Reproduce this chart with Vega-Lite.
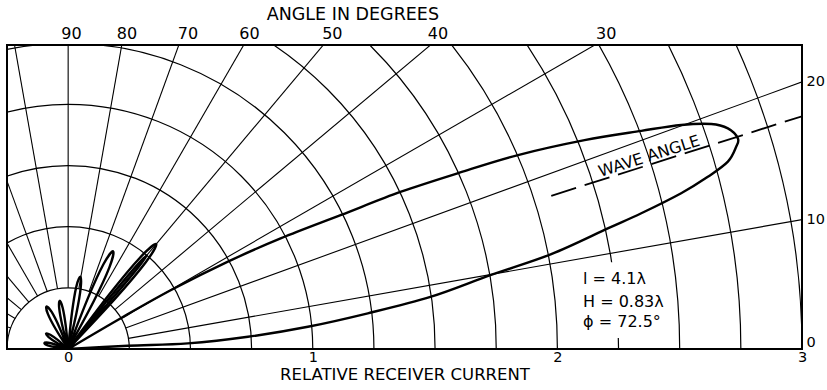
{
  "$schema": "https://vega.github.io/schema/vega-lite/v6.json",
  "width": 795,
  "height": 304,
  "autosize": {"type": "none"},
  "padding": {"left": 7, "top": 45, "right": 25, "bottom": 41},
  "config": {
    "view": {"stroke": "black", "strokeWidth": 2},
    "font": "DejaVu Sans",
    "text": {"font": "DejaVu Sans", "color": "black"},
    "axis": {
      "grid": false, "ticks": false, "domain": false,
      "labelFont": "DejaVu Sans", "labelFontSize": 16, "labelColor": "black",
      "titleFont": "DejaVu Sans", "titleFontSize": 16.5, "titleFontWeight": "normal", "titleColor": "black"
    }
  },
  "datasets": {
    "circles": [
      {"r": 0.25}, {"r": 0.5}, {"r": 0.75}, {"r": 1.0}, {"r": 1.25}, {"r": 1.5}, {"r": 1.75},
      {"r": 2.0}, {"r": 2.25}, {"r": 2.5}, {"r": 2.75}, {"r": 3.0}, {"r": 3.25}
    ],
    "spokes": [
      {"deg": 10, "x": 0.2462, "y": 0.0434, "x2": 3.9392, "y2": 0.6946},
      {"deg": 20, "x": 0.2349, "y": 0.0855, "x2": 3.7588, "y2": 1.3681},
      {"deg": 30, "x": 0.2165, "y": 0.125, "x2": 3.4641, "y2": 2.0},
      {"deg": 40, "x": 0.1915, "y": 0.1607, "x2": 3.0642, "y2": 2.5712},
      {"deg": 50, "x": 0.1607, "y": 0.1915, "x2": 2.5712, "y2": 3.0642},
      {"deg": 60, "x": 0.125, "y": 0.2165, "x2": 2.0, "y2": 3.4641},
      {"deg": 70, "x": 0.0855, "y": 0.2349, "x2": 1.3681, "y2": 3.7588},
      {"deg": 80, "x": 0.0434, "y": 0.2462, "x2": 0.6946, "y2": 3.9392},
      {"deg": 90, "x": 0.0, "y": 0.25, "x2": 0.0, "y2": 4.0},
      {"deg": 100, "x": -0.0434, "y": 0.2462, "x2": -0.6946, "y2": 3.9392},
      {"deg": 110, "x": -0.0855, "y": 0.2349, "x2": -1.3681, "y2": 3.7588},
      {"deg": 120, "x": -0.125, "y": 0.2165, "x2": -2.0, "y2": 3.4641},
      {"deg": 130, "x": -0.1607, "y": 0.1915, "x2": -2.5712, "y2": 3.0642},
      {"deg": 140, "x": -0.1915, "y": 0.1607, "x2": -3.0642, "y2": 2.5712},
      {"deg": 150, "x": -0.2165, "y": 0.125, "x2": -3.4641, "y2": 2.0},
      {"deg": 160, "x": -0.2349, "y": 0.0855, "x2": -3.7588, "y2": 1.3681},
      {"deg": 170, "x": -0.2462, "y": 0.0434, "x2": -3.9392, "y2": 0.6946}
    ],
    "lobes": [
      {"lobe": "main", "i": 0, "x": 0, "y": 0},
      {"lobe": "main", "i": 1, "x": 0.217, "y": 0.127},
      {"lobe": "main", "i": 2, "x": 0.421, "y": 0.241},
      {"lobe": "main", "i": 3, "x": 0.653, "y": 0.357},
      {"lobe": "main", "i": 4, "x": 0.871, "y": 0.453},
      {"lobe": "main", "i": 5, "x": 1.116, "y": 0.548},
      {"lobe": "main", "i": 6, "x": 1.361, "y": 0.643},
      {"lobe": "main", "i": 7, "x": 1.600, "y": 0.721},
      {"lobe": "main", "i": 8, "x": 1.839, "y": 0.793},
      {"lobe": "main", "i": 9, "x": 2.111, "y": 0.854},
      {"lobe": "main", "i": 10, "x": 2.343, "y": 0.892},
      {"lobe": "main", "i": 11, "x": 2.506, "y": 0.916},
      {"lobe": "main", "i": 12, "x": 2.629, "y": 0.920},
      {"lobe": "main", "i": 13, "x": 2.697, "y": 0.902},
      {"lobe": "main", "i": 14, "x": 2.738, "y": 0.861},
      {"lobe": "main", "i": 15, "x": 2.731, "y": 0.827},
      {"lobe": "main", "i": 16, "x": 2.697, "y": 0.766},
      {"lobe": "main", "i": 17, "x": 2.615, "y": 0.704},
      {"lobe": "main", "i": 18, "x": 2.506, "y": 0.637},
      {"lobe": "main", "i": 19, "x": 2.343, "y": 0.555},
      {"lobe": "main", "i": 20, "x": 2.206, "y": 0.493},
      {"lobe": "main", "i": 21, "x": 1.975, "y": 0.388},
      {"lobe": "main", "i": 22, "x": 1.729, "y": 0.303},
      {"lobe": "main", "i": 23, "x": 1.484, "y": 0.214},
      {"lobe": "main", "i": 24, "x": 1.225, "y": 0.146},
      {"lobe": "main", "i": 25, "x": 0.980, "y": 0.091},
      {"lobe": "main", "i": 26, "x": 0.735, "y": 0.050},
      {"lobe": "main", "i": 27, "x": 0.489, "y": 0.023},
      {"lobe": "main", "i": 28, "x": 0.244, "y": 0.013},
      {"lobe": "main", "i": 29, "x": 0, "y": 0},

      {"lobe": "a", "i": 0, "x": 0, "y": 0},
      {"lobe": "a", "i": 1, "x": 0.1910, "y": 0.2048},
      {"lobe": "a", "i": 2, "x": 0.3173, "y": 0.3549},
      {"lobe": "a", "i": 3, "x": 0.3600, "y": 0.4290},
      {"lobe": "a", "i": 4, "x": 0.2944, "y": 0.3741},
      {"lobe": "a", "i": 5, "x": 0.1685, "y": 0.2236},
      {"lobe": "a", "i": 6, "x": 0, "y": 0},

      {"lobe": "a2", "i": 0, "x": 0, "y": 0},
      {"lobe": "a2", "i": 1, "x": 0.1647, "y": 0.1881},
      {"lobe": "a2", "i": 2, "x": 0.2771, "y": 0.3222},
      {"lobe": "a2", "i": 3, "x": 0.3214, "y": 0.3830},
      {"lobe": "a2", "i": 4, "x": 0.2692, "y": 0.3289},
      {"lobe": "a2", "i": 5, "x": 0.1567, "y": 0.1948},
      {"lobe": "a2", "i": 6, "x": 0, "y": 0},

      {"lobe": "b", "i": 0, "x": 0, "y": 0},
      {"lobe": "b", "i": 1, "x": 0.1040, "y": 0.1939},
      {"lobe": "b", "i": 2, "x": 0.1686, "y": 0.3338},
      {"lobe": "b", "i": 3, "x": 0.1839, "y": 0.3997},
      {"lobe": "b", "i": 4, "x": 0.1437, "y": 0.3453},
      {"lobe": "b", "i": 5, "x": 0.0796, "y": 0.2051},
      {"lobe": "b", "i": 6, "x": 0, "y": 0},

      {"lobe": "c", "i": 0, "x": 0, "y": 0},
      {"lobe": "c", "i": 1, "x": 0.0338, "y": 0.1462},
      {"lobe": "c", "i": 2, "x": 0.0513, "y": 0.2498},
      {"lobe": "c", "i": 3, "x": 0.0495, "y": 0.2959},
      {"lobe": "c", "i": 4, "x": 0.0328, "y": 0.2529},
      {"lobe": "c", "i": 5, "x": 0.0157, "y": 0.1492},
      {"lobe": "c", "i": 6, "x": 0, "y": 0},

      {"lobe": "d", "i": 0, "x": 0, "y": 0},
      {"lobe": "d", "i": 1, "x": -0.0105, "y": 0.0995},
      {"lobe": "d", "i": 2, "x": -0.0225, "y": 0.1685},
      {"lobe": "d", "i": 3, "x": -0.0347, "y": 0.1970},
      {"lobe": "d", "i": 4, "x": -0.0365, "y": 0.1660},
      {"lobe": "d", "i": 5, "x": -0.0242, "y": 0.0970},
      {"lobe": "d", "i": 6, "x": 0, "y": 0},

      {"lobe": "e", "i": 0, "x": 0, "y": 0},
      {"lobe": "e", "i": 1, "x": -0.0365, "y": 0.0904},
      {"lobe": "e", "i": 2, "x": -0.0675, "y": 0.1516},
      {"lobe": "e", "i": 3, "x": -0.0885, "y": 0.1737},
      {"lobe": "e", "i": 4, "x": -0.0830, "y": 0.1438},
      {"lobe": "e", "i": 5, "x": -0.0517, "y": 0.0827},
      {"lobe": "e", "i": 6, "x": 0, "y": 0},

      {"lobe": "f", "i": 0, "x": 0, "y": 0},
      {"lobe": "f", "i": 1, "x": -0.0415, "y": 0.0361},
      {"lobe": "f", "i": 2, "x": -0.0731, "y": 0.0583},
      {"lobe": "f", "i": 3, "x": -0.0901, "y": 0.0631},
      {"lobe": "f", "i": 4, "x": -0.0798, "y": 0.0487},
      {"lobe": "f", "i": 5, "x": -0.0481, "y": 0.0267},
      {"lobe": "f", "i": 6, "x": 0, "y": 0},

      {"lobe": "g", "i": 0, "x": 0, "y": 0},
      {"lobe": "g", "i": 1, "x": -0.0470, "y": 0.0171},
      {"lobe": "g", "i": 2, "x": -0.0810, "y": 0.0257},
      {"lobe": "g", "i": 3, "x": -0.0970, "y": 0.0242},
      {"lobe": "g", "i": 4, "x": -0.0836, "y": 0.0153},
      {"lobe": "g", "i": 5, "x": -0.0495, "y": 0.0070},
      {"lobe": "g", "i": 6, "x": 0, "y": 0}
    ],
    "wave": [
      {"x": 1.975, "y": 0.6265},
      {"x": 3.0, "y": 0.9516}
    ],
    "waveLabel": [
      {"t": "WAVE ANGLE", "x": 2.385, "y": 0.7566}
    ],
    "notes": [
      {"t": "l = 4.1λ", "x": 2.105, "y": 0.287},
      {"t": "H = 0.83λ", "x": 2.105, "y": 0.192},
      {"t": "ϕ = 72.5°", "x": 2.105, "y": 0.110}
    ],
    "notebox": [
      {"x": 2.08, "x2": 2.46, "y": 0.045, "y2": 0.355}
    ],
    "topLabels": [
      {"t": "90", "x": 0.0135},
      {"t": "80", "x": 0.2404},
      {"t": "70", "x": 0.4894},
      {"t": "60", "x": 0.7412},
      {"t": "50", "x": 1.0801},
      {"t": "40", "x": 1.5115},
      {"t": "30", "x": 2.1995}
    ],
    "topTitle": [
      {"t": "ANGLE IN DEGREES", "x": 1.164}
    ]
  },
  "layer": [
    {
      "data": {"name": "circles"},
      "mark": {"type": "point", "shape": "circle", "filled": false, "stroke": "black", "strokeWidth": 1.2, "opacity": 1, "clip": true},
      "encoding": {
        "x": {"datum": 0, "type": "quantitative"},
        "y": {"datum": 0, "type": "quantitative"},
        "size": {
          "field": "r", "type": "quantitative", "legend": null,
          "scale": {"type": "pow", "exponent": 2, "domain": [0, 3.25], "range": [0, 2528100], "zero": true}
        }
      }
    },
    {
      "data": {"name": "notebox"},
      "mark": {"type": "rect", "fill": "white", "stroke": null, "clip": true},
      "encoding": {
        "x": {"field": "x", "type": "quantitative"},
        "x2": {"field": "x2"},
        "y": {"field": "y", "type": "quantitative"},
        "y2": {"field": "y2"}
      }
    },
    {
      "data": {"name": "spokes"},
      "mark": {"type": "rule", "stroke": "black", "strokeWidth": 1.1, "clip": true},
      "encoding": {
        "x": {
          "field": "x", "type": "quantitative",
          "scale": {"domain": [-0.25, 3], "nice": false, "zero": false},
          "axis": {
            "orient": "bottom", "values": [0, 1, 2, 3], "format": "d",
            "labelFlush": false, "labelPadding": 1, "labelFontSize": 14.5,
            "title": "RELATIVE RECEIVER CURRENT", "titlePadding": 3
          }
        },
        "y": {
          "field": "y", "type": "quantitative",
          "scale": {"domain": [0, 1.243], "nice": false, "zero": false},
          "axis": {
            "orient": "right", "values": [0, 0.529, 1.0919],
            "labelExpr": "datum.value < 0.1 ? '0' : datum.value < 0.8 ? '10' : '20'",
            "labelFlush": true, "labelPadding": 4, "labelAlign": "left", "labelFontSize": 14.5, "title": null
          }
        },
        "x2": {"field": "x2"},
        "y2": {"field": "y2"}
      }
    },
    {
      "data": {"name": "lobes"},
      "mark": {"type": "line", "interpolate": "cardinal", "stroke": "black", "strokeWidth": 2.4, "strokeJoin": "round", "clip": true},
      "encoding": {
        "x": {"field": "x", "type": "quantitative"},
        "y": {"field": "y", "type": "quantitative"},
        "detail": {"field": "lobe"},
        "order": {"field": "i", "type": "quantitative"}
      }
    },
    {
      "data": {"name": "wave"},
      "mark": {"type": "line", "stroke": "black", "strokeWidth": 1.8, "strokeDash": [26, 9], "clip": true},
      "encoding": {
        "x": {"field": "x", "type": "quantitative"},
        "y": {"field": "y", "type": "quantitative"}
      }
    },
    {
      "data": {"name": "waveLabel"},
      "mark": {"type": "text", "angle": -17.6, "align": "center", "baseline": "middle", "dy": -8, "fontSize": 16, "font": "DejaVu Sans", "fill": "black"},
      "encoding": {
        "x": {"field": "x", "type": "quantitative"},
        "y": {"field": "y", "type": "quantitative"},
        "text": {"field": "t"}
      }
    },
    {
      "data": {"name": "notes"},
      "mark": {"type": "text", "align": "left", "baseline": "middle", "fontSize": 16, "font": "DejaVu Sans", "fill": "black"},
      "encoding": {
        "x": {"field": "x", "type": "quantitative"},
        "y": {"field": "y", "type": "quantitative"},
        "text": {"field": "t"}
      }
    },
    {
      "data": {"name": "topLabels"},
      "mark": {"type": "text", "align": "center", "baseline": "middle", "fontSize": 16, "font": "DejaVu Sans", "fill": "black", "dy": -11.5},
      "encoding": {
        "x": {"field": "x", "type": "quantitative"},
        "y": {"datum": 1.243, "type": "quantitative"},
        "text": {"field": "t"}
      }
    },
    {
      "data": {"name": "topTitle"},
      "mark": {"type": "text", "align": "center", "baseline": "middle", "fontSize": 17.5, "font": "DejaVu Sans", "fill": "black", "dy": -30},
      "encoding": {
        "x": {"field": "x", "type": "quantitative"},
        "y": {"datum": 1.243, "type": "quantitative"},
        "text": {"field": "t"}
      }
    }
  ]
}
